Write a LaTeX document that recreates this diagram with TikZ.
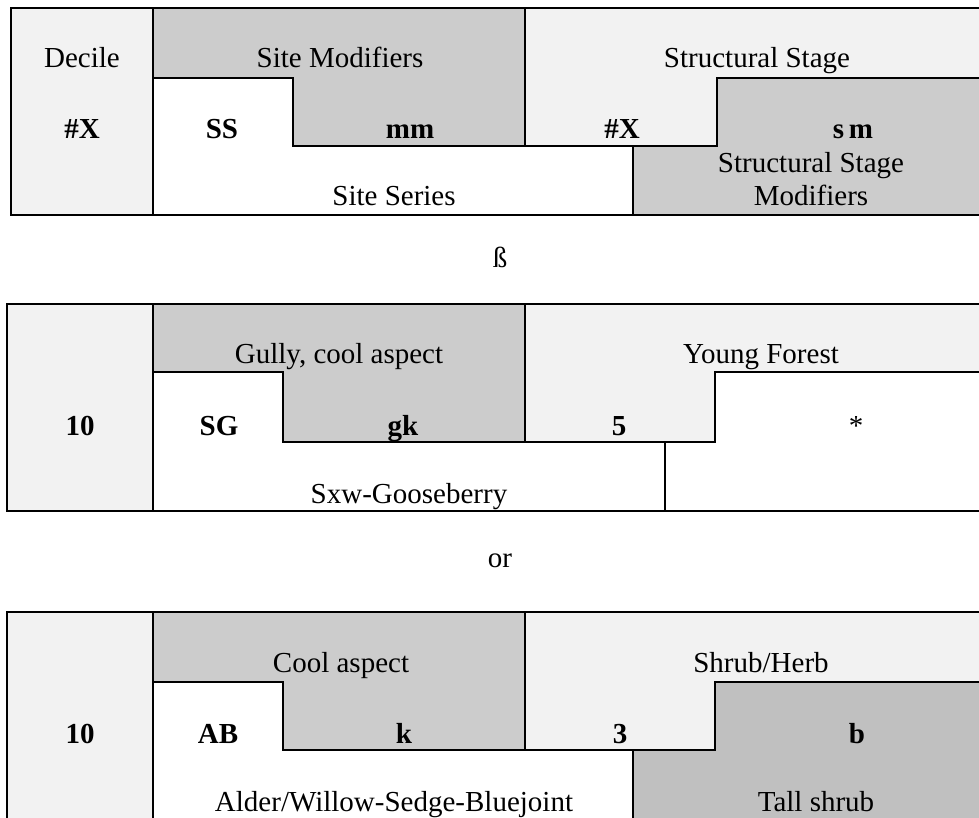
\documentclass[tikz,border=0pt]{standalone}
\usepackage{fontspec}
\setmainfont{Liberation Serif}
\definecolor{pale}{HTML}{F2F2F2}
\definecolor{mid}{HTML}{CCCCCC}
\definecolor{dark}{HTML}{C0C0C0}

\begin{document}
\begin{tikzpicture}[
  x=1pt, y=-1pt,
  cell/.style={draw, line width=2.5pt, line join=miter},
  lbl/.style={anchor=base, inner sep=0pt, align=center,
    font=\fontsize{29}{33}\selectfont},
  code/.style={lbl, font=\fontsize{29}{33}\selectfont\bfseries}
]
\useasboundingbox (0,0) rectangle (979,818);
\clip (0,0) rectangle (979,818);

% legend
\draw[cell, fill=pale] (11,8) rectangle (153,215);
\draw[cell, fill=mid] (153,8) -- (525,8) -- (525,146) -- (293,146) -- (293,78) -- (153,78) -- cycle;
\draw[cell, fill=white] (153,78) -- (293,78) -- (293,146) -- (633,146) -- (633,215) -- (153,215) -- cycle;
\draw[cell, fill=pale] (525,8) -- (995,8) -- (995,78) -- (717,78) -- (717,146) -- (525,146) -- cycle;
\draw[cell, fill=mid] (717,78) -- (995,78) -- (995,215) -- (633,215) -- (633,146) -- (717,146) -- cycle;
\node[lbl] (dec1) at (82,68) {Decile};
\node[code] (num1) at (82,139) {\#X};
\node[lbl] (mod1) at (340,68) {Site Modifiers};
\node[code] (ss1) at (222,139) {SS};
\node[code] (mm1) at (410,139) {mm};
\node[lbl] (ser1) at (394,206) {Site Series};
\node[lbl] (stg1) at (757,68) {Structural Stage};
\node[code] (sx1) at (622,139) {\#X};
\node[code] (sm1) at (853,139) {s\,m};
\node[lbl] (smd1) at (811,206) {Structural Stage\\Modifiers};

\node[lbl] (arr) at (500,267) {ß};

% example one
\draw[cell, fill=pale] (7,304) rectangle (153,511);
\draw[cell, fill=mid] (153,304) -- (525,304) -- (525,442) -- (283,442) -- (283,372) -- (153,372) -- cycle;
\draw[cell, fill=white] (153,372) -- (283,372) -- (283,442) -- (665,442) -- (665,511) -- (153,511) -- cycle;
\draw[cell, fill=pale] (525,304) -- (995,304) -- (995,372) -- (715,372) -- (715,442) -- (525,442) -- cycle;
\draw[cell, fill=white] (715,372) -- (995,372) -- (995,511) -- (665,511) -- (665,442) -- (715,442) -- cycle;
\node[code] (num2) at (80,435) {10};
\node[lbl] (mod2) at (339,363) {Gully, cool aspect};
\node[code] (ss2) at (219,435) {SG};
\node[code] (mm2) at (403,435) {gk};
\node[lbl] (ser2) at (409,503) {Sxw-Gooseberry};
\node[lbl] (stg2) at (761,363) {Young Forest};
\node[code] (sx2) at (619,435) {5};
\node[lbl] (sm2) at (856,435) {*};

\node[lbl] (alt) at (500,567) {or};

% example two
\draw[cell, fill=pale] (7,612) rectangle (153,822);
\draw[cell, fill=mid] (153,612) -- (525,612) -- (525,750) -- (283,750) -- (283,682) -- (153,682) -- cycle;
\draw[cell, fill=white] (153,682) -- (283,682) -- (283,750) -- (633,750) -- (633,822) -- (153,822) -- cycle;
\draw[cell, fill=pale] (525,612) -- (995,612) -- (995,682) -- (715,682) -- (715,750) -- (525,750) -- cycle;
\draw[cell, fill=dark] (715,682) -- (995,682) -- (995,822) -- (633,822) -- (633,750) -- (715,750) -- cycle;
\node[code] (num3) at (80,743) {10};
\node[lbl] (mod3) at (341,672) {Cool aspect};
\node[code] (ss3) at (218,743) {AB};
\node[code] (mm3) at (404,743) {k};
\node[lbl] (ser3) at (394,811) {Alder/Willow-Sedge-Bluejoint};
\node[lbl] (stg3) at (761,672) {Shrub/Herb};
\node[code] (sx3) at (620,743) {3};
\node[code] (sm3) at (857,743) {b};
\node[lbl] (smd3) at (816,811) {Tall shrub};
\end{tikzpicture}
\end{document}
